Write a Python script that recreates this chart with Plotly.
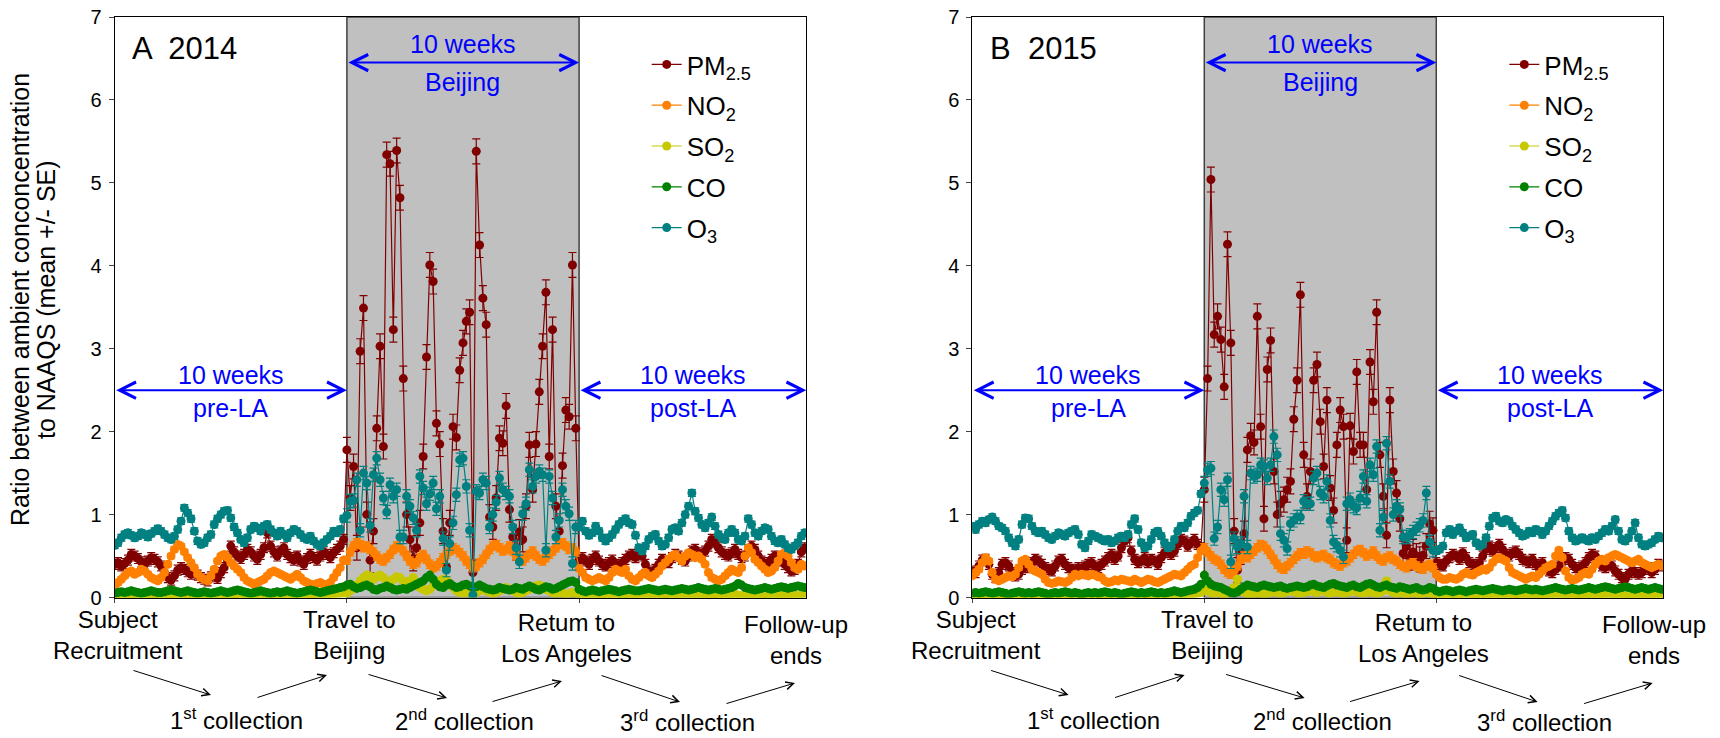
import plotly.graph_objects as go

# ---------------- DATA (ratio to NAAQS, daily means) ----------------
# Panel A (2014): pre-LA (days 0-69), Beijing (days 70-139), post-LA (days 140-208)
pm25_A_pre = [0.40,0.42,0.38,0.41,0.45,0.52,0.50,0.47,0.43,0.40,
              0.44,0.48,0.46,0.43,0.38,0.30,0.24,0.21,0.26,0.33,
              0.36,0.34,0.31,0.28,0.30,0.27,0.24,0.22,0.20,0.25,
              0.28,0.23,0.30,0.36,0.45,0.62,0.55,0.50,0.47,0.52,
              0.58,0.55,0.50,0.46,0.52,0.60,0.78,0.62,0.55,0.50,
              0.56,0.60,0.52,0.48,0.45,0.50,0.44,0.40,0.47,0.52,
              0.48,0.45,0.50,0.55,0.52,0.48,0.54,0.58,0.62,0.70]
pm25_A_bj = [1.78,1.20,1.58,0.60,2.97,3.49,1.00,0.45,0.80,2.04,
             3.03,1.82,5.34,5.23,3.23,5.39,4.82,2.64,1.00,0.70,
             0.47,0.60,0.90,1.70,2.90,4.01,3.81,2.10,1.85,0.80,
             0.37,0.90,2.06,1.93,2.74,3.07,3.33,3.44,0.30,5.38,
             4.25,3.61,3.29,0.97,0.85,1.20,1.92,1.86,2.31,1.06,
             0.73,0.60,0.79,0.70,1.10,1.84,1.30,1.85,2.48,3.03,
             3.68,1.70,3.23,1.10,0.80,1.59,2.26,2.18,4.01,2.04]
pm25_A_post = [0.45,0.48,0.44,0.40,0.46,0.50,0.44,0.40,0.38,0.42,
               0.45,0.40,0.38,0.42,0.46,0.50,0.52,0.48,0.55,0.50,
               0.40,0.32,0.28,0.34,0.40,0.46,0.44,0.42,0.48,0.52,
               0.50,0.46,0.44,0.50,0.56,0.58,0.54,0.52,0.56,0.62,
               0.70,0.66,0.60,0.55,0.52,0.50,0.54,0.58,0.52,0.48,
               0.50,0.56,0.62,0.58,0.50,0.44,0.40,0.42,0.46,0.50,
               0.46,0.44,0.40,0.36,0.32,0.34,0.40,0.55,0.60]

no2_A_pre = [0.12,0.18,0.22,0.26,0.30,0.32,0.28,0.30,0.34,0.32,
             0.28,0.24,0.22,0.20,0.24,0.30,0.40,0.50,0.58,0.64,
             0.62,0.55,0.48,0.42,0.36,0.28,0.24,0.22,0.20,0.26,
             0.34,0.44,0.50,0.52,0.48,0.42,0.38,0.34,0.30,0.24,
             0.20,0.18,0.16,0.18,0.20,0.22,0.26,0.30,0.32,0.30,
             0.28,0.26,0.24,0.22,0.25,0.28,0.24,0.20,0.18,0.16,
             0.15,0.17,0.18,0.16,0.15,0.18,0.24,0.30,0.36,0.45]
no2_A_bj = [0.45,0.55,0.62,0.66,0.64,0.60,0.62,0.58,0.55,0.50,
            0.46,0.44,0.48,0.52,0.58,0.62,0.60,0.56,0.50,0.44,
            0.40,0.42,0.48,0.52,0.46,0.40,0.36,0.38,0.42,0.48,
            0.52,0.56,0.60,0.58,0.54,0.50,0.44,0.40,0.36,0.38,
            0.42,0.46,0.52,0.58,0.62,0.64,0.60,0.56,0.58,0.62,
            0.56,0.50,0.46,0.44,0.48,0.52,0.56,0.50,0.46,0.44,
            0.48,0.52,0.56,0.60,0.64,0.66,0.62,0.58,0.60,0.55]
no2_A_post = [0.35,0.30,0.24,0.22,0.20,0.22,0.24,0.22,0.20,0.24,
              0.30,0.34,0.32,0.30,0.34,0.26,0.22,0.20,0.24,0.28,
              0.30,0.26,0.24,0.28,0.32,0.38,0.42,0.46,0.50,0.52,
              0.48,0.44,0.50,0.54,0.52,0.48,0.50,0.46,0.40,0.30,
              0.24,0.22,0.20,0.22,0.26,0.30,0.34,0.32,0.30,0.36,
              0.50,0.60,0.54,0.46,0.42,0.38,0.34,0.30,0.32,0.36,
              0.44,0.52,0.54,0.50,0.42,0.36,0.34,0.40,0.38]

so2_A_pre = [0.02,0.01,0.02,0.03,0.02,0.01,0.02,0.02,0.03,0.02,
             0.01,0.02,0.01,0.02,0.03,0.02,0.02,0.01,0.02,0.03,
             0.02,0.01,0.02,0.02,0.01,0.02,0.03,0.02,0.01,0.02,
             0.02,0.03,0.02,0.01,0.02,0.02,0.01,0.02,0.03,0.02,
             0.02,0.01,0.02,0.02,0.03,0.02,0.01,0.02,0.02,0.01,
             0.02,0.03,0.02,0.02,0.01,0.02,0.02,0.03,0.02,0.01,
             0.02,0.02,0.03,0.02,0.02,0.03,0.04,0.04,0.05,0.05]
so2_A_bj = [0.05,0.08,0.12,0.15,0.20,0.24,0.27,0.26,0.22,0.25,
            0.27,0.24,0.20,0.18,0.22,0.25,0.24,0.20,0.17,0.20,
            0.24,0.18,0.12,0.10,0.08,0.10,0.14,0.18,0.20,0.22,
            0.21,0.16,0.12,0.08,0.06,0.05,0.06,0.08,0.04,0.06,
            0.08,0.10,0.08,0.06,0.05,0.06,0.08,0.10,0.12,0.10,
            0.08,0.06,0.05,0.06,0.08,0.10,0.12,0.14,0.15,0.13,
            0.10,0.08,0.06,0.05,0.06,0.05,0.04,0.05,0.06,0.05]
so2_A_post = [0.03,0.02,0.03,0.02,0.02,0.03,0.02,0.01,0.02,0.03,
              0.02,0.02,0.03,0.02,0.01,0.02,0.03,0.02,0.02,0.03,
              0.04,0.03,0.02,0.02,0.03,0.02,0.01,0.02,0.03,0.02,
              0.02,0.03,0.04,0.03,0.02,0.02,0.03,0.02,0.02,0.03,
              0.02,0.01,0.02,0.03,0.02,0.02,0.03,0.04,0.03,0.02,
              0.02,0.03,0.02,0.02,0.03,0.02,0.01,0.02,0.03,0.02,
              0.02,0.03,0.02,0.02,0.03,0.03,0.02,0.03,0.02]

co_A_pre = [0.05,0.06,0.07,0.06,0.07,0.08,0.07,0.06,0.05,0.06,
            0.07,0.08,0.07,0.06,0.06,0.07,0.08,0.09,0.08,0.07,
            0.06,0.07,0.08,0.07,0.06,0.05,0.06,0.07,0.06,0.05,
            0.06,0.07,0.08,0.07,0.06,0.07,0.08,0.09,0.08,0.07,
            0.06,0.05,0.06,0.07,0.08,0.07,0.06,0.05,0.06,0.07,
            0.06,0.07,0.08,0.07,0.06,0.05,0.06,0.07,0.08,0.09,
            0.08,0.07,0.06,0.07,0.08,0.09,0.10,0.11,0.12,0.13]
co_A_bj = [0.15,0.16,0.13,0.11,0.12,0.14,0.15,0.13,0.10,0.09,
           0.11,0.12,0.14,0.12,0.10,0.09,0.10,0.11,0.10,0.12,
           0.14,0.16,0.18,0.20,0.24,0.27,0.22,0.16,0.13,0.12,
           0.15,0.17,0.14,0.12,0.13,0.15,0.16,0.14,0.12,0.13,
           0.15,0.13,0.11,0.10,0.09,0.10,0.12,0.11,0.10,0.09,
           0.10,0.12,0.11,0.10,0.12,0.14,0.12,0.10,0.09,0.11,
           0.13,0.12,0.10,0.11,0.13,0.15,0.17,0.19,0.20,0.18]
co_A_post = [0.10,0.08,0.07,0.08,0.09,0.08,0.07,0.08,0.09,0.10,
             0.09,0.08,0.07,0.08,0.09,0.10,0.09,0.08,0.08,0.09,
             0.10,0.11,0.10,0.09,0.08,0.09,0.10,0.09,0.08,0.09,
             0.10,0.11,0.10,0.09,0.10,0.11,0.12,0.11,0.10,0.09,
             0.10,0.11,0.10,0.09,0.10,0.11,0.12,0.14,0.17,0.15,
             0.12,0.11,0.10,0.09,0.10,0.11,0.12,0.11,0.10,0.11,
             0.12,0.13,0.12,0.11,0.12,0.13,0.14,0.13,0.12]

o3_A_pre = [0.63,0.66,0.72,0.76,0.78,0.75,0.72,0.74,0.78,0.76,
            0.73,0.77,0.80,0.83,0.80,0.76,0.72,0.70,0.74,0.82,
            0.92,1.08,1.02,0.95,0.80,0.68,0.64,0.66,0.72,0.76,
            0.88,0.95,1.00,1.04,1.05,0.96,0.85,0.78,0.70,0.66,
            0.72,0.82,0.86,0.84,0.80,0.86,0.88,0.82,0.78,0.74,
            0.80,0.76,0.72,0.78,0.82,0.80,0.76,0.72,0.70,0.74,
            0.68,0.64,0.62,0.66,0.70,0.74,0.80,0.78,0.82,0.95]
o3_A_bj = [0.99,1.16,1.17,1.42,0.81,1.50,1.38,0.87,1.48,1.68,
           1.42,1.20,1.03,1.36,1.22,1.30,0.73,0.73,1.22,1.10,
           0.96,0.81,1.46,1.32,1.13,1.25,1.38,1.07,1.22,0.71,
           0.33,0.65,0.90,1.24,1.66,1.68,1.34,0.81,0.03,1.28,
           1.26,1.42,1.38,0.85,1.00,1.15,1.44,1.30,1.26,1.22,
           0.85,0.60,0.43,1.01,1.13,1.54,1.34,1.46,1.52,1.48,
           0.57,1.46,1.20,0.73,0.93,1.30,1.10,1.01,0.41,0.85]
o3_A_post = [0.85,0.92,0.80,0.75,0.78,0.86,0.80,0.72,0.68,0.72,
             0.76,0.82,0.88,0.92,0.95,0.90,0.88,0.75,0.60,0.56,
             0.62,0.70,0.74,0.76,0.68,0.62,0.64,0.72,0.82,0.84,
             0.80,0.90,1.00,1.10,1.26,1.04,0.96,0.88,0.84,0.90,
             0.97,0.86,0.76,0.72,0.70,0.78,0.82,0.78,0.70,0.68,
             0.74,0.95,0.88,0.78,0.74,0.80,0.84,0.82,0.74,0.68,
             0.66,0.70,0.64,0.60,0.58,0.62,0.66,0.74,0.78]

# Panel B (2015)
pm25_B_pre = [0.32,0.30,0.38,0.45,0.46,0.40,0.28,0.24,0.30,0.40,
              0.42,0.38,0.30,0.26,0.28,0.34,0.38,0.36,0.42,0.46,
              0.44,0.40,0.36,0.34,0.32,0.38,0.44,0.46,0.40,0.36,
              0.34,0.32,0.36,0.34,0.38,0.40,0.42,0.38,0.36,0.40,
              0.44,0.48,0.52,0.46,0.50,0.60,0.68,0.72,0.56,0.46,
              0.42,0.44,0.48,0.42,0.46,0.44,0.40,0.48,0.54,0.58,
              0.52,0.56,0.64,0.70,0.68,0.62,0.66,0.70,0.64,0.60]
pm25_B_bj = [1.30,2.64,5.04,3.17,3.39,3.11,2.54,4.26,3.07,0.80,
             0.33,0.55,0.77,1.78,1.95,1.87,3.39,2.06,0.95,2.75,
             3.10,1.52,1.00,1.13,1.18,1.30,1.40,2.15,2.62,3.65,
             1.72,1.22,1.52,2.62,2.81,2.12,1.58,2.38,1.32,1.05,
             1.84,2.26,2.06,0.69,2.07,1.76,2.72,1.84,1.84,1.30,
             2.84,2.36,3.44,1.72,1.22,0.75,2.38,1.52,1.26,0.95,
             0.53,0.62,0.48,0.55,0.50,0.46,0.51,0.62,0.89,0.81]
pm25_B_post = [0.42,0.40,0.38,0.44,0.48,0.52,0.50,0.46,0.54,0.48,
               0.42,0.40,0.38,0.42,0.50,0.58,0.62,0.56,0.60,0.64,
               0.58,0.52,0.50,0.54,0.56,0.52,0.46,0.44,0.42,0.46,
               0.40,0.38,0.42,0.36,0.32,0.30,0.34,0.38,0.44,0.48,
               0.46,0.40,0.36,0.34,0.38,0.42,0.48,0.52,0.50,0.44,
               0.38,0.36,0.40,0.38,0.32,0.28,0.24,0.22,0.28,0.32,
               0.30,0.28,0.30,0.34,0.36,0.30,0.34,0.40,0.38]

no2_B_pre = [0.26,0.30,0.34,0.42,0.48,0.44,0.30,0.22,0.20,0.22,
             0.24,0.26,0.25,0.28,0.36,0.44,0.46,0.40,0.34,0.32,
             0.30,0.28,0.22,0.18,0.17,0.18,0.20,0.19,0.18,0.20,
             0.24,0.28,0.26,0.28,0.27,0.26,0.28,0.27,0.25,0.24,
             0.20,0.18,0.19,0.21,0.20,0.22,0.21,0.20,0.19,0.22,
             0.20,0.18,0.20,0.22,0.21,0.19,0.18,0.20,0.22,0.24,
             0.26,0.28,0.27,0.26,0.30,0.34,0.38,0.40,0.48,0.56]
no2_B_bj = [0.60,0.55,0.50,0.46,0.44,0.40,0.34,0.30,0.28,0.32,
            0.38,0.46,0.50,0.48,0.52,0.56,0.60,0.64,0.62,0.58,
            0.52,0.46,0.40,0.36,0.34,0.38,0.42,0.46,0.50,0.54,
            0.52,0.56,0.54,0.50,0.48,0.50,0.52,0.48,0.46,0.42,
            0.40,0.38,0.42,0.44,0.48,0.52,0.56,0.58,0.54,0.50,
            0.52,0.56,0.50,0.46,0.44,0.48,0.50,0.46,0.44,0.40,
            0.38,0.36,0.40,0.42,0.38,0.36,0.34,0.38,0.40,0.36]
no2_B_post = [0.28,0.24,0.22,0.22,0.24,0.23,0.22,0.24,0.28,0.30,
              0.28,0.27,0.30,0.32,0.34,0.33,0.36,0.42,0.46,0.48,
              0.46,0.44,0.36,0.30,0.28,0.26,0.24,0.22,0.24,0.26,
              0.24,0.28,0.32,0.36,0.38,0.40,0.50,0.57,0.48,0.32,
              0.24,0.21,0.22,0.24,0.28,0.30,0.28,0.34,0.40,0.44,
              0.46,0.44,0.48,0.50,0.52,0.50,0.48,0.46,0.44,0.42,
              0.44,0.46,0.42,0.40,0.38,0.36,0.38,0.40,0.38]

so2_B_pre = [0.01,0.02,0.02,0.01,0.02,0.03,0.02,0.01,0.02,0.02,
             0.01,0.02,0.02,0.03,0.02,0.01,0.02,0.02,0.01,0.02,
             0.03,0.02,0.01,0.02,0.02,0.01,0.02,0.03,0.02,0.01,
             0.02,0.02,0.01,0.02,0.02,0.03,0.02,0.01,0.02,0.02,
             0.01,0.02,0.03,0.02,0.01,0.02,0.02,0.01,0.02,0.03,
             0.02,0.01,0.02,0.02,0.01,0.02,0.03,0.02,0.01,0.02,
             0.02,0.03,0.02,0.02,0.03,0.03,0.04,0.04,0.05,0.06]
so2_B_bj = [0.10,0.08,0.06,0.05,0.06,0.05,0.04,0.05,0.08,0.12,
            0.22,0.10,0.06,0.05,0.04,0.05,0.06,0.05,0.04,0.05,
            0.06,0.07,0.06,0.05,0.06,0.07,0.08,0.07,0.06,0.05,
            0.06,0.07,0.08,0.07,0.06,0.12,0.08,0.06,0.05,0.06,
            0.07,0.06,0.05,0.06,0.07,0.08,0.07,0.06,0.05,0.06,
            0.07,0.06,0.05,0.06,0.08,0.20,0.08,0.06,0.05,0.06,
            0.05,0.04,0.05,0.06,0.05,0.04,0.05,0.06,0.05,0.04]
so2_B_post = [0.03,0.02,0.02,0.03,0.02,0.01,0.02,0.03,0.02,0.02,
              0.03,0.02,0.01,0.02,0.03,0.02,0.02,0.03,0.04,0.03,
              0.02,0.02,0.03,0.02,0.01,0.02,0.03,0.02,0.02,0.03,
              0.02,0.01,0.02,0.03,0.02,0.02,0.03,0.04,0.03,0.02,
              0.02,0.03,0.02,0.01,0.02,0.03,0.02,0.02,0.03,0.02,
              0.02,0.03,0.04,0.03,0.02,0.02,0.03,0.02,0.01,0.02,
              0.03,0.02,0.02,0.03,0.02,0.02,0.03,0.02,0.03]

co_B_pre = [0.05,0.06,0.05,0.06,0.07,0.06,0.05,0.06,0.07,0.06,
            0.05,0.04,0.05,0.06,0.07,0.06,0.05,0.06,0.05,0.06,
            0.07,0.06,0.05,0.04,0.05,0.06,0.05,0.06,0.07,0.06,
            0.05,0.06,0.05,0.04,0.05,0.06,0.05,0.06,0.05,0.06,
            0.07,0.06,0.05,0.06,0.05,0.04,0.05,0.06,0.07,0.06,
            0.05,0.06,0.05,0.06,0.07,0.06,0.05,0.06,0.05,0.06,
            0.07,0.08,0.07,0.06,0.07,0.08,0.09,0.10,0.12,0.16]
co_B_bj = [0.27,0.20,0.16,0.14,0.13,0.12,0.10,0.08,0.06,0.05,
           0.07,0.10,0.13,0.15,0.14,0.13,0.12,0.14,0.15,0.14,
           0.13,0.12,0.13,0.14,0.12,0.11,0.12,0.13,0.14,0.13,
           0.12,0.13,0.15,0.16,0.14,0.13,0.12,0.14,0.16,0.17,
           0.15,0.14,0.13,0.12,0.14,0.15,0.13,0.12,0.14,0.16,
           0.17,0.15,0.13,0.12,0.14,0.15,0.13,0.12,0.11,0.13,
           0.12,0.11,0.10,0.11,0.12,0.10,0.09,0.10,0.12,0.11]
co_B_post = [0.08,0.07,0.08,0.09,0.08,0.07,0.08,0.09,0.08,0.07,
             0.08,0.09,0.10,0.09,0.08,0.09,0.10,0.11,0.10,0.09,
             0.08,0.09,0.10,0.09,0.08,0.09,0.10,0.11,0.10,0.09,
             0.10,0.09,0.08,0.09,0.10,0.11,0.12,0.11,0.10,0.09,
             0.10,0.11,0.10,0.09,0.10,0.11,0.12,0.11,0.10,0.11,
             0.12,0.13,0.12,0.11,0.10,0.11,0.12,0.13,0.12,0.11,
             0.10,0.11,0.12,0.11,0.10,0.11,0.12,0.11,0.10]

o3_B_pre = [0.86,0.82,0.88,0.92,0.90,0.94,0.97,0.92,0.86,0.84,
            0.80,0.72,0.66,0.62,0.70,0.88,0.96,0.95,0.86,0.80,
            0.78,0.80,0.76,0.72,0.70,0.74,0.78,0.76,0.74,0.78,
            0.80,0.82,0.76,0.64,0.60,0.68,0.76,0.74,0.72,0.70,
            0.68,0.70,0.66,0.68,0.72,0.74,0.72,0.76,0.88,0.95,
            0.82,0.66,0.60,0.62,0.70,0.78,0.80,0.74,0.66,0.60,
            0.62,0.70,0.80,0.86,0.84,0.90,0.98,1.02,1.05,1.25]
o3_B_bj = [1.38,1.54,1.56,0.71,0.85,1.30,1.18,1.42,0.43,0.71,
           0.61,0.65,1.22,0.61,1.50,1.46,1.48,1.60,1.58,1.44,
           1.60,1.94,1.72,0.77,0.69,0.59,0.89,0.93,0.97,0.97,
           1.16,1.13,1.13,1.44,1.50,1.26,1.22,1.40,0.93,0.67,
           0.63,0.57,0.49,1.13,1.18,1.10,1.08,1.20,1.46,1.16,
           1.60,1.48,1.82,0.81,0.97,1.86,1.40,1.00,1.10,1.06,
           0.73,0.73,0.75,0.79,0.83,0.87,0.93,1.26,0.67,0.57]
o3_B_post = [0.56,0.58,0.62,0.78,0.82,0.76,0.80,0.84,0.78,0.72,
             0.74,0.76,0.66,0.62,0.64,0.72,0.86,0.96,0.98,0.92,
             0.90,0.94,0.92,0.86,0.82,0.78,0.74,0.76,0.80,0.78,
             0.82,0.80,0.76,0.80,0.86,0.92,0.98,1.02,1.05,0.96,
             0.80,0.72,0.68,0.70,0.72,0.70,0.68,0.72,0.70,0.74,
             0.78,0.82,0.80,0.86,0.94,0.80,0.70,0.68,0.72,0.80,
             0.90,0.72,0.64,0.62,0.64,0.66,0.70,0.74,0.72]

# standard errors per period [pre, Beijing, post]
se_pm25 = [0.06, 0.15, 0.06]
se_no2 = [0.03, 0.05, 0.03]
se_so2 = [0.01, 0.03, 0.01]
se_co = [0.01, 0.015, 0.01]
se_o3 = [0.04, 0.08, 0.04]

pollutants = ["PM<sub>2.5</sub>", "NO<sub>2</sub>", "SO<sub>2</sub>", "CO", "O<sub>3</sub>"]
period_start_day = [0, 70, 140]
x_max_day = 208.5

# ---------------- STYLE / LAYOUT ----------------
colors = ["#800000", "#FF8000", "#C8C800", "#008000", "#008080"]
W, H = 1720, 738
def px(x): return x / W
def py(y): return 1 - y / H

panels = {
    "A": dict(left=114.7, right=806.3, xa="x", ya="y", leg="legend",
              series=[(pm25_A_pre, pm25_A_bj, pm25_A_post), (no2_A_pre, no2_A_bj, no2_A_post),
                      (so2_A_pre, so2_A_bj, so2_A_post), (co_A_pre, co_A_bj, co_A_post),
                      (o3_A_pre, o3_A_bj, o3_A_post)], label="A  2014"),
    "B": dict(left=972.3, right=1663.3, xa="x2", ya="y2", leg="legend2",
              series=[(pm25_B_pre, pm25_B_bj, pm25_B_post), (no2_B_pre, no2_B_bj, no2_B_post),
                      (so2_B_pre, so2_B_bj, so2_B_post), (co_B_pre, co_B_bj, co_B_post),
                      (o3_B_pre, o3_B_bj, o3_B_post)], label="B  2015"),
}
ses = [se_pm25, se_no2, se_so2, se_co, se_o3]
Y_TOP, Y_BOT = 17.0, 597.5
FONT = "Liberation Sans, Arial, sans-serif"

fig = go.Figure()
for key, p in panels.items():
    for i, periods in enumerate(p["series"]):
        xs, ys, es = [], [], []
        for j, vals in enumerate(periods):
            xs += [period_start_day[j] + k for k in range(len(vals))]
            ys += vals
            es += [ses[i][j]] * len(vals)
        fig.add_trace(go.Scatter(
            x=xs, y=ys, mode="lines+markers", name=pollutants[i],
            xaxis=p["xa"], yaxis=p["ya"], legend=p["leg"], legendgroup=key + str(i),
            line=dict(color=colors[i], width=1.2),
            marker=dict(color=colors[i], size=9),
            error_y=dict(type="data", array=es, color=colors[i], thickness=1.2, width=4),
            hoverinfo="skip"))

layout = dict(
    width=W, height=H, margin=dict(l=0, r=0, t=0, b=0, autoexpand=False),
    paper_bgcolor="white", plot_bgcolor="white",
    font=dict(family=FONT, color="black"),
    showlegend=True, shapes=[], annotations=[],
)
ydom = [py(Y_BOT), py(Y_TOP)]
for key, p in panels.items():
    xn = "xaxis" if p["xa"] == "x" else "xaxis2"
    yn = "yaxis" if p["ya"] == "y" else "yaxis2"
    layout[xn] = dict(domain=[px(p["left"]), px(p["right"])], range=[0, x_max_day],
                      anchor=p["ya"], showline=True, linecolor="black", linewidth=1, mirror=True,
                      ticks="outside", ticklen=4, tickvals=period_start_day, showticklabels=False,
                      showgrid=False, zeroline=False, automargin=False)
    layout[yn] = dict(domain=ydom, range=[0, 7], dtick=1, anchor=p["xa"],
                      showline=True, linecolor="black", linewidth=1, mirror=True,
                      ticks="outside", ticklen=5, tickfont=dict(size=20, family=FONT),
                      ticklabelstandoff=3,
                      showgrid=False, zeroline=False, automargin=False)
    layout[p["leg"]] = dict(x=px(p["left"] + 532), y=py(41), xanchor="left", yanchor="top",
                            bgcolor="rgba(0,0,0,0)", font=dict(size=26, family=FONT),
                            itemwidth=30, tracegroupgap=4, traceorder="grouped")
    # Beijing shading
    layout["shapes"].append(dict(type="rect", xref=p["xa"], yref=p["ya"], x0=70, x1=140, y0=0, y1=7,
                                 fillcolor="#C0C0C0", line=dict(color="#404040", width=1.5), layer="below"))
    ann = layout["annotations"]
    blue = "#0000FF"
    # period arrows
    for (x0, x1, yv, top, bot, up, dn) in [(0, 70, 2.5, "10 weeks", "pre-LA", 15, -18),
                                           (70, 140, 6.45, "10 weeks", "Beijing", 19, -19),
                                           (140, x_max_day, 2.5, "10 weeks", "post-LA", 15, -18)]:
        ann.append(dict(xref=p["xa"], yref=p["ya"], x=x1, y=yv, ax=x0, ay=yv,
                        axref=p["xa"], ayref=p["ya"], text="", showarrow=True,
                        arrowside="end+start", arrowhead=5, startarrowhead=5,
                        arrowsize=1.6, startarrowsize=1.6, arrowwidth=2, arrowcolor=blue))
        ann.append(dict(xref=p["xa"], yref=p["ya"], x=(x0 + x1) / 2, y=yv, yshift=up,
                        xanchor="center", yanchor="middle",
                        text=top, showarrow=False, font=dict(size=25, color=blue, family=FONT)))
        ann.append(dict(xref=p["xa"], yref=p["ya"], x=(x0 + x1) / 2, y=yv, yshift=dn,
                        xanchor="center", yanchor="middle",
                        text=bot, showarrow=False, font=dict(size=25, color=blue, family=FONT)))
    L = p["left"] - 114.7
    ann.append(dict(xref="paper", yref="paper", x=px(L + 130), y=py(48), xanchor="left",
                    yanchor="middle", text=p["label"], showarrow=False,
                    font=dict(size=31, family=FONT)))
    # timeline labels below the axis
    for (cx, cy, t) in [(118, 635, "Subject<br>Recruitment"), (349, 635, "Travel to<br>Beijing"),
                        (566, 638, "Retum to<br>Los Angeles"), (796, 640, "Follow-up<br>ends"),
                        (236, 719, "1<sup>st</sup> collection"), (465, 720, "2<sup>nd</sup> collection"),
                        (687, 721, "3<sup>rd</sup> collection")]:
        ann.append(dict(xref="paper", yref="paper", x=px(L + cx), y=py(cy), text=t,
                        xanchor="center", yanchor="middle",
                        showarrow=False, font=dict(size=24, family=FONT)))
    for (hx, hy, tx, ty) in [(211, 695, 132, 670), (327, 675, 256, 698), (447, 698, 367, 674),
                             (562, 681, 491, 702), (680, 702, 600, 675), (795, 683, 725, 704)]:
        ann.append(dict(xref="paper", yref="paper", x=px(L + hx), y=py(hy), ax=tx - hx, ay=ty - hy,
                        text="", showarrow=True, arrowhead=5, arrowsize=1.5, arrowwidth=1,
                        arrowcolor="black"))

# y-axis title (two lines)
layout["annotations"].append(dict(xref="paper", yref="paper", x=px(20), y=py(300), textangle=-90,
                                  xanchor="center", yanchor="middle",
                                  text="Ratio between ambient conconcentration", showarrow=False,
                                  font=dict(size=25, family=FONT)))
layout["annotations"].append(dict(xref="paper", yref="paper", x=px(46), y=py(300), textangle=-90,
                                  xanchor="center", yanchor="middle",
                                  text="to NAAQS (mean +/- SE)", showarrow=False,
                                  font=dict(size=25, family=FONT)))

fig.update_layout(**layout)
fig.write_html("out.html")
